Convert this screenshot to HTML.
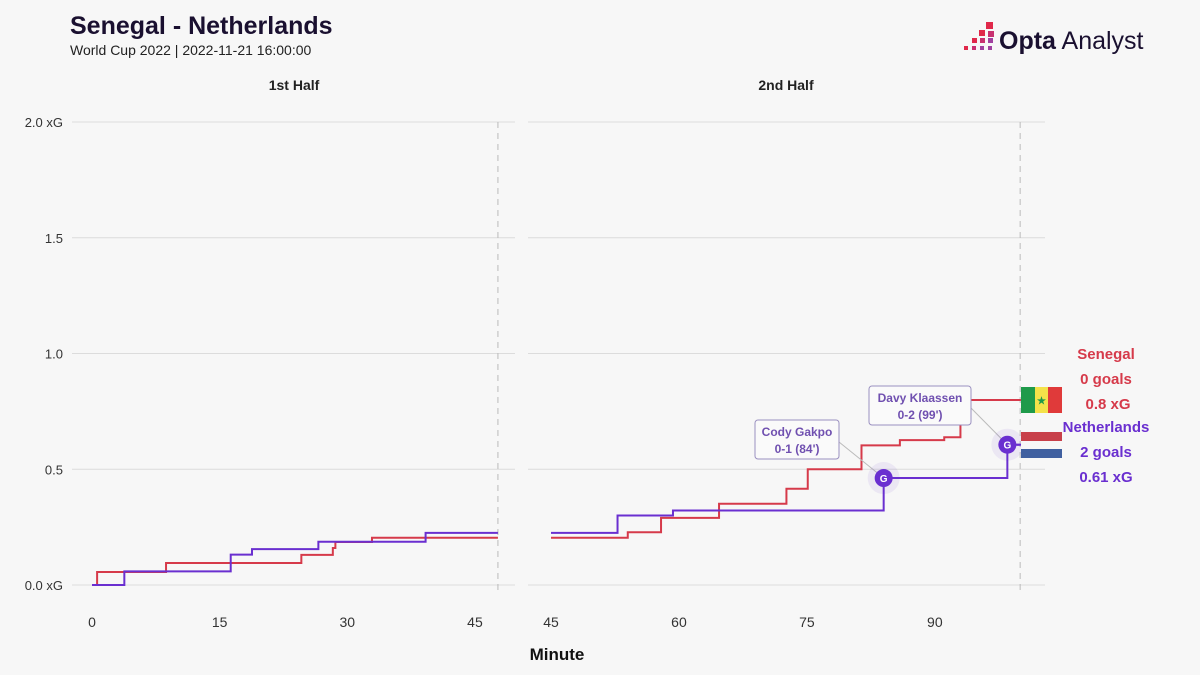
<!DOCTYPE html>
<html><head><meta charset="utf-8"><style>
body{margin:0;background:#f7f7f7;}
svg{display:block;font-family:"Liberation Sans",sans-serif;}
</style></head><body>
<svg id="c" width="1200" height="675" viewBox="0 0 1200 675">
<rect width="1200" height="675" fill="#f7f7f7"/>
<text x="70" y="34" font-size="25" font-weight="bold" fill="#1a1030">Senegal - Netherlands</text>
<text x="70" y="55" font-size="14" fill="#222">World Cup 2022 | 2022-11-21 16:00:00</text>
<g>
<rect x="986" y="22" width="7" height="7" fill="#e0284a"/><rect x="979" y="30" width="6" height="6" fill="#e0284a"/><rect x="988" y="31" width="6" height="6" fill="#c83070"/>
<rect x="972" y="38" width="5" height="5" fill="#e0284a"/><rect x="980" y="38" width="5" height="5" fill="#c83070"/><rect x="988" y="38" width="5" height="5" fill="#a040a0"/>
<rect x="964" y="46" width="4" height="4" fill="#e0284a"/><rect x="972" y="46" width="4" height="4" fill="#c83070"/><rect x="980" y="46" width="4" height="4" fill="#a040a0"/><rect x="988" y="46" width="4" height="4" fill="#a040a0"/>
<text x="999" y="49" font-size="25" fill="#1a1030"><tspan font-weight="bold">Opta</tspan> Analyst</text>
</g>
<text x="294" y="90" font-size="14" font-weight="bold" text-anchor="middle" fill="#222">1st Half</text>
<text x="786" y="90" font-size="14" font-weight="bold" text-anchor="middle" fill="#222">2nd Half</text>
<text x="557" y="660" font-size="17" font-weight="bold" text-anchor="middle" fill="#111">Minute</text>
<g id="grid"></g><g id="lines"></g><g id="ann"></g>
<g font-size="15" font-weight="bold" text-anchor="middle">
<text x="1106" y="359" fill="#d63a4a">Senegal</text>
<text x="1106" y="384" fill="#d63a4a">0 goals</text>
<text x="1108" y="409" fill="#d63a4a">0.8 xG</text>
<text x="1106" y="432" fill="#6a2fd0">Netherlands</text>
<text x="1106" y="457" fill="#6a2fd0">2 goals</text>
<text x="1106" y="482" fill="#6a2fd0">0.61 xG</text>
<g><rect x="1021" y="387" width="14" height="26" fill="#1f9a4a"/><rect x="1035" y="387" width="13" height="26" fill="#f4e24a"/><rect x="1048" y="387" width="14" height="26" fill="#e03a3a"/><text x="1041.5" y="404" font-size="10" fill="#1f9a4a">★</text></g>
<g><rect x="1021" y="432" width="41" height="9" fill="#c8404a"/><rect x="1021" y="441" width="41" height="8" fill="#f7f7f7"/><rect x="1021" y="449" width="41" height="9" fill="#4060a0"/></g>
</g>
</svg>
<script>
const h1Sen=[[0,0],[0.6,0.056],[8.7,0.095],[24.6,0.13],[28.3,0.16],[28.6,0.186],[32.9,0.204]];
const h1Ned=[[0,0],[3.8,0.059],[16.3,0.131],[18.8,0.155],[26.6,0.187],[39.2,0.225]];
const h2Sen=[[45,0.204],[54,0.228],[57.9,0.29],[64.7,0.351],[72.6,0.416],[75.1,0.5],[81.4,0.603],[85.9,0.626],[91.1,0.638],[93,0.799]];
const h2Ned=[[45,0.225],[52.8,0.30],[59.3,0.322],[84,0.462],[98.5,0.606]];
const goalMinutes=[84,98.5];
const goalValues=[0.462,0.606];
const goalLabels=[["Cody Gakpo","0-1 (84')"],["Davy Klaassen","0-2 (99')"]];
const yTicks=[0,0.5,1.0,1.5,2.0];
const yTickLabels=["0.0 xG","0.5","1.0","1.5","2.0 xG"];
const x1Ticks=[0,15,30,45];
const x2Ticks=[45,60,75,90];
const ns="http://www.w3.org/2000/svg";
const y=v=>585-v*231.5;
const x1=m=>92+m*8.51;
const x2=m=>551+(m-45)*8.53;
function el(t,a,p){const e=document.createElementNS(ns,t);for(const k in a)e.setAttribute(k,a[k]);p.appendChild(e);return e;}
const G=document.getElementById('grid'),L=document.getElementById('lines'),A=document.getElementById('ann');
yTicks.forEach((t,i)=>{
 const g1=el('line',{x1:72,x2:515,y1:y(t),y2:y(t),stroke:'#dcdcdc','stroke-width':1},G);
 
 const g2=el('line',{x1:528,x2:1045,y1:y(t),y2:y(t),stroke:'#dcdcdc','stroke-width':1},G);
 
 const tx=el('text',{x:63,y:y(t)+5,'font-size':13,'text-anchor':'end',fill:'#333'},G);
 tx.textContent=yTickLabels[i];
 
});
x1Ticks.forEach(t=>{const tx=el('text',{x:x1(t),y:627,'font-size':14,'text-anchor':'middle',fill:'#333'},G);tx.textContent=t;
 });
x2Ticks.forEach(t=>{const tx=el('text',{x:x2(t),y:627,'font-size':14,'text-anchor':'middle',fill:'#333'},G);tx.textContent=t;
 });
[[x1(47.7)],[x2(100)]].forEach(([xx])=>{const d=el('line',{x1:xx,x2:xx,y1:122,y2:590,stroke:'#bbb','stroke-dasharray':'6,5'},G);
 });
function step(data,xf,end,col,name){
 let d='M'+xf(data[0][0])+','+y(data[0][1]);
 for(let i=1;i<data.length;i++){d+=' H'+xf(data[i][0])+' V'+y(data[i][1]);}
 d+=' H'+xf(end);
 const p=el('path',{d:d,fill:'none',stroke:col,'stroke-width':2},L);
 
}
step(h1Sen,x1,47.7,'#d63a4a','senegal-line-first-half');
step(h1Ned,x1,47.7,'#6a2fd0','netherlands-line-first-half');
step(h2Sen,x2,100,'#d63a4a','senegal-line-second-half');
step(h2Ned,x2,100,'#6a2fd0','netherlands-line-second-half');
const lr=el('line',{x1:x2(100),x2:1021,y1:y(0.799),y2:y(0.799),stroke:'#d63a4a','stroke-width':2},L);
const boxes=[[755,420,84],[869,386,102]];
goalMinutes.forEach((m,i)=>{
 const cx=x2(m),cy=y(goalValues[i]);const [bx,by,bw]=boxes[i];
 const ln=el('line',{x1:bx+bw,x2:cx,y1:by+22,y2:cy,stroke:'#bbb','stroke-width':1},A);
 
 const r=el('rect',{x:bx,y:by,width:bw,height:39,rx:3,fill:'#fafafa',stroke:'#9a90c0'},A);
 
 const t1=el('text',{x:bx+bw/2,y:by+16,'font-size':12,'font-weight':'bold','text-anchor':'middle',fill:'#7050b0'},A);t1.textContent=goalLabels[i][0];
 
 const t2=el('text',{x:bx+bw/2,y:by+33,'font-size':12,'font-weight':'bold','text-anchor':'middle',fill:'#7050b0'},A);t2.textContent=goalLabels[i][1];
 
 const h=el('circle',{cx:cx,cy:cy,r:16,fill:'#6a2fd0',opacity:0.08},A);
 const c=el('circle',{cx:cx,cy:cy,r:9,fill:'#6a2fd0'},A);
 
 const g=el('text',{x:cx,y:cy+4,'font-size':10,'font-weight':'bold','text-anchor':'middle',fill:'#fff'},A);g.textContent='G';
});
const ln2=el('line',{x1:x2(98.5)+9,x2:1021,y1:y(0.606),y2:y(0.606),stroke:'#6a2fd0','stroke-width':2},L);
</script>
</body></html>
